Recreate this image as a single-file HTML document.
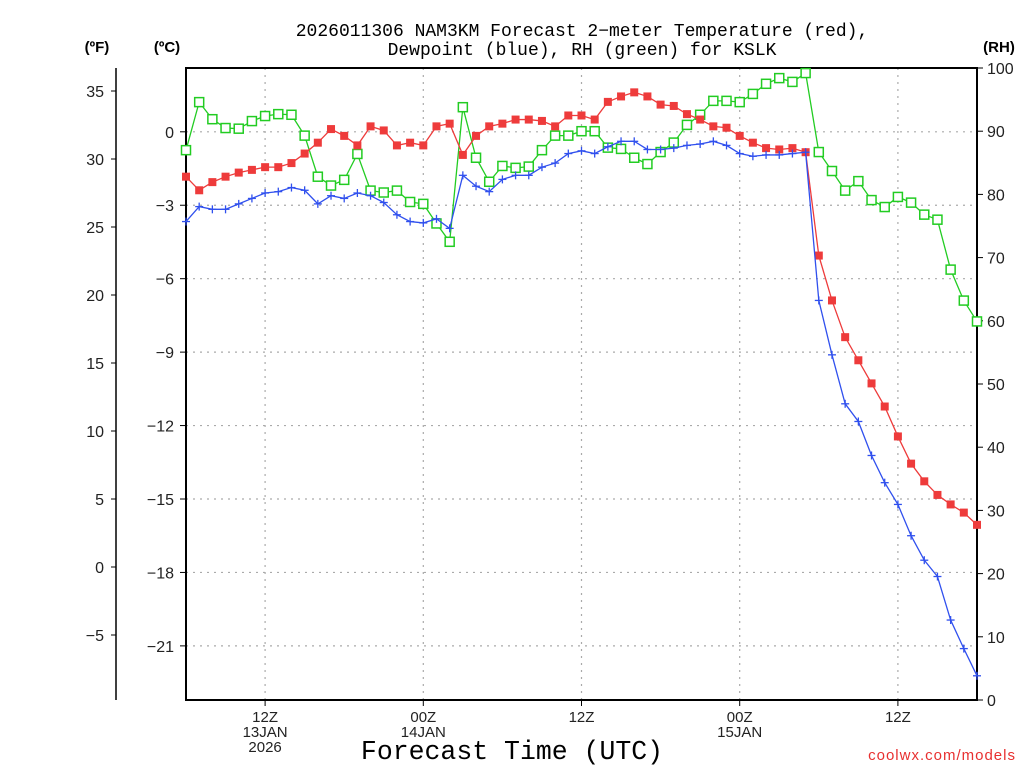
<!DOCTYPE html>
<html><head><meta charset="utf-8"><style>
body{margin:0;background:#fff;width:1024px;height:768px;overflow:hidden}
svg{display:block;font-family:"Liberation Sans",sans-serif}
</style></head><body>
<svg id="chart" width="1024" height="768" viewBox="0 0 1024 768">
<text x="582" y="36" font-size="18" text-anchor="middle" font-family="Liberation Mono, monospace">2026011306 NAM3KM Forecast 2−meter Temperature (red),</text>
<text x="582" y="55" font-size="18" text-anchor="middle" font-family="Liberation Mono, monospace">Dewpoint (blue), RH (green) for KSLK</text>
<text x="97" y="52" font-size="15" font-weight="bold" text-anchor="middle">(ºF)</text>
<text x="167" y="52" font-size="15" font-weight="bold" text-anchor="middle">(ºC)</text>
<text x="999" y="52" font-size="15" font-weight="bold" text-anchor="middle">(RH)</text>
<text x="512" y="759" font-size="26.5" text-anchor="middle" font-family="Liberation Mono, monospace">Forecast Time (UTC)</text>
<text x="1016" y="760" font-size="15" fill="#e83030" text-anchor="end" letter-spacing="1">coolwx.com/models</text>
<g id="grid"></g><g id="axes"></g><g id="series"></g>
</svg>
<script>
const hours=[...Array(61).keys()];
const tempF=[28.7,27.7,28.3,28.7,29.0,29.2,29.4,29.4,29.7,30.4,31.2,32.2,31.7,31.0,32.4,32.1,31.0,31.2,31.0,32.4,32.6,30.3,31.7,32.4,32.6,32.9,32.9,32.8,32.4,33.2,33.2,32.9,34.2,34.6,34.9,34.6,34.0,33.9,33.3,32.9,32.4,32.3,31.7,31.2,30.8,30.7,30.8,30.5,22.9,19.6,16.9,15.2,13.5,11.8,9.6,7.6,6.3,5.3,4.6,4.0,3.1];
const dewF=[25.4,26.5,26.3,26.3,26.7,27.1,27.5,27.6,27.9,27.7,26.7,27.3,27.1,27.5,27.3,26.8,25.9,25.4,25.3,25.6,24.9,28.8,28.0,27.6,28.5,28.8,28.8,29.4,29.7,30.4,30.6,30.4,30.9,31.3,31.3,30.7,30.7,30.8,31.0,31.1,31.3,31.0,30.4,30.2,30.3,30.3,30.4,30.5,19.6,15.6,12.0,10.7,8.2,6.2,4.6,2.3,0.5,-0.7,-3.9,-6.0,-8.0];
const rh=[87.0,94.6,91.9,90.5,90.4,91.6,92.4,92.7,92.6,89.3,82.8,81.4,82.3,86.4,80.6,80.3,80.6,78.8,78.5,75.4,72.5,93.8,85.8,82.0,84.5,84.2,84.4,87.0,89.3,89.3,90.0,90.0,87.4,87.2,85.8,84.8,86.7,88.2,91.0,92.6,94.8,94.8,94.6,95.9,97.5,98.4,97.8,99.2,86.7,83.7,80.6,82.1,79.1,78.0,79.6,78.7,76.8,76.0,68.1,63.2,59.9];
const fTicks=[35,30,25,20,15,10,5,0,-5];
const cTicks=[0,-3,-6,-9,-12,-15,-18,-21];
const rhTicks=[0,10,20,30,40,50,60,70,80,90,100];
const timeTicks=[{h:6,l:["12Z","13JAN","2026"]},{h:18,l:["00Z","14JAN"]},{h:30,l:["12Z"]},{h:42,l:["00Z","15JAN"]},{h:54,l:["12Z"]}];
const L=186,R=977,T=68,B=700;
const X=h=>L+(R-L)*h/60;
const YF=f=>567-f*13.6;
const YC=c=>YF(c*9/5+32);
const YR=r=>B-(B-T)*r/100;
const NS="http://www.w3.org/2000/svg";
function mk(p,t,a){const e=document.createElementNS(NS,t);for(const k in a)e.setAttribute(k,a[k]);p.appendChild(e);return e;}
const grid=document.getElementById('grid'),axes=document.getElementById('axes'),ser=document.getElementById('series');
cTicks.forEach(c=>{const y=YC(c);
 const g=mk(grid,'line',{x1:L,x2:R,y1:y,y2:y,stroke:'#aaa','stroke-dasharray':'2,5','stroke-width':1.2});
 
 
 mk(axes,'line',{x1:L-6,x2:L,y1:y,y2:y,stroke:'#000'});
 const t=mk(axes,'text',{x:L-12,y:y+6,'font-size':16,'text-anchor':'end',fill:'#222'});t.textContent=(c<0?'−':'')+Math.abs(c);
 
 });
timeTicks.forEach(tk=>{const x=X(tk.h);
 const g=mk(grid,'line',{x1:x,x2:x,y1:T,y2:B,stroke:'#aaa','stroke-dasharray':'2,5','stroke-width':1.2});
 
 
 mk(axes,'line',{x1:x,x2:x,y1:B,y2:B+6,stroke:'#000'});
 tk.l.forEach((s,i)=>{const t=mk(axes,'text',{x:x,y:722+i*15,'font-size':15,'text-anchor':'middle',fill:'#222'});t.textContent=s;
 
 });});
mk(axes,'line',{x1:116,x2:116,y1:T,y2:B,stroke:'#000','stroke-width':1.5});
fTicks.forEach(f=>{const y=YF(f);mk(axes,'line',{x1:111,x2:116,y1:y,y2:y,stroke:'#000'});
 const t=mk(axes,'text',{x:104,y:y+6,'font-size':16,'text-anchor':'end',fill:'#222'});t.textContent=(f<0?'−':'')+Math.abs(f);
 
 });
rhTicks.forEach(r=>{const y=YR(r);mk(axes,'line',{x1:R,x2:R+6,y1:y,y2:y,stroke:'#000'});
 const t=mk(axes,'text',{x:R+10,y:y+6,'font-size':16,fill:'#222'});t.textContent=r;
 
 });
const fr=mk(axes,'rect',{x:L,y:T,width:R-L,height:B-T,fill:'none',stroke:'#000','stroke-width':2});


function series(vals,yf,col,name,marker){
 const g=mk(ser,'g',{});
 
 
 mk(g,'polyline',{points:vals.map((v,i)=>X(hours[i])+','+yf(v)).join(' '),fill:'none',stroke:col,'stroke-width':1.3});
 vals.forEach((v,i)=>{const x=X(hours[i]),y=yf(v);
  if(marker==='fill')mk(g,'rect',{x:x-4,y:y-4,width:8,height:8,fill:col});
  else if(marker==='open')mk(g,'rect',{x:x-4.5,y:y-4.5,width:9,height:9,fill:'#fff',stroke:col,'stroke-width':1.5});
  else{mk(g,'line',{x1:x-4,x2:x+4,y1:y,y2:y,stroke:col,'stroke-width':1.3});mk(g,'line',{x1:x,x2:x,y1:y-4,y2:y+4,stroke:col,'stroke-width':1.3});}});
}
series(rh,YR,'#22cc22','rh-series','open');
series(tempF,YF,'#ee3b3b','temperature-series','fill');
series(dewF,YF,'#3050ee','dewpoint-series','plus');
</script>
</body></html>
